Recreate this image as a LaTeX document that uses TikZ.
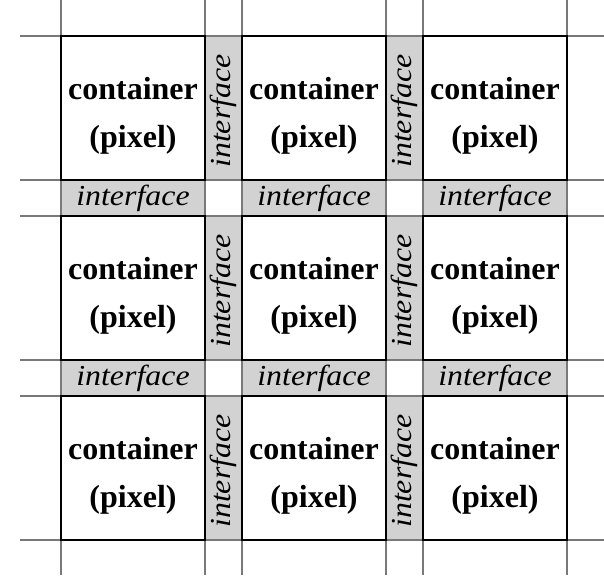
\documentclass[tikz,border=0pt]{standalone}
\usepackage{fontspec}
\setmainfont{Liberation Serif}
\newfontfamily\ifont{Liberation Serif}[FakeStretch=1.1]
\begin{document}
\begin{tikzpicture}[x=1pt,y=-1pt,
  gridline/.style={draw=gray!95!black, line width=2pt},
  cont/.style={draw=black, fill=white, line width=2pt, minimum width=144pt, minimum height=144pt, inner sep=0pt},
  ctext/.style={align=center, inner sep=0pt, font=\fontsize{32}{48}\selectfont\bfseries},
  vstrip/.style={draw=gray!95!black, fill=gray!35, line width=2pt, minimum width=37pt, minimum height=144pt, inner sep=0pt},
  hstrip/.style={draw=gray!95!black, fill=gray!35, line width=2pt, minimum width=144pt, minimum height=36pt, inner sep=0pt},
  itext/.style={inner sep=0pt, font=\fontsize{29}{34}\ifont\itshape},
]
\useasboundingbox (0,0) rectangle (604,584);
% grid lines
\foreach \y in {36,180,216,360,396,540} \draw[gridline] (20,\y) -- (604,\y);
\foreach \x in {61,205,242,386,423,567} \draw[gridline] (\x,0) -- (\x,575);
% strips
\foreach \r/\cy in {1/108,2/288,3/468}{
  \node[vstrip] (va\r) at (223.5,\cy) {};
  \node[vstrip] (vb\r) at (404.5,\cy) {};
  \node[itext, rotate=90] (tva\r) at ([yshift=-3pt]va\r.center) {interface};
  \node[itext, rotate=90] (tvb\r) at ([yshift=-3pt]vb\r.center) {interface};
}
\foreach \r/\cy in {1/198,2/378}{
  \foreach \c/\cx in {1/133,2/314,3/495}{
    \node[hstrip] (h\r\c) at (\cx,\cy) {};
    \node[itext] (th\r\c) at (h\r\c.center) {interface};
  }
}
% containers
\foreach \r/\cy in {1/108,2/288,3/468}{
  \foreach \c/\cx in {1/133,2/314,3/495}{
    \node[cont] (c\r\c) at (\cx,\cy) {};
    \node[ctext] (t\r\c) at ([yshift=-8pt]c\r\c.center) {container\\(pixel)};
  }
}
\end{tikzpicture}
\end{document}
